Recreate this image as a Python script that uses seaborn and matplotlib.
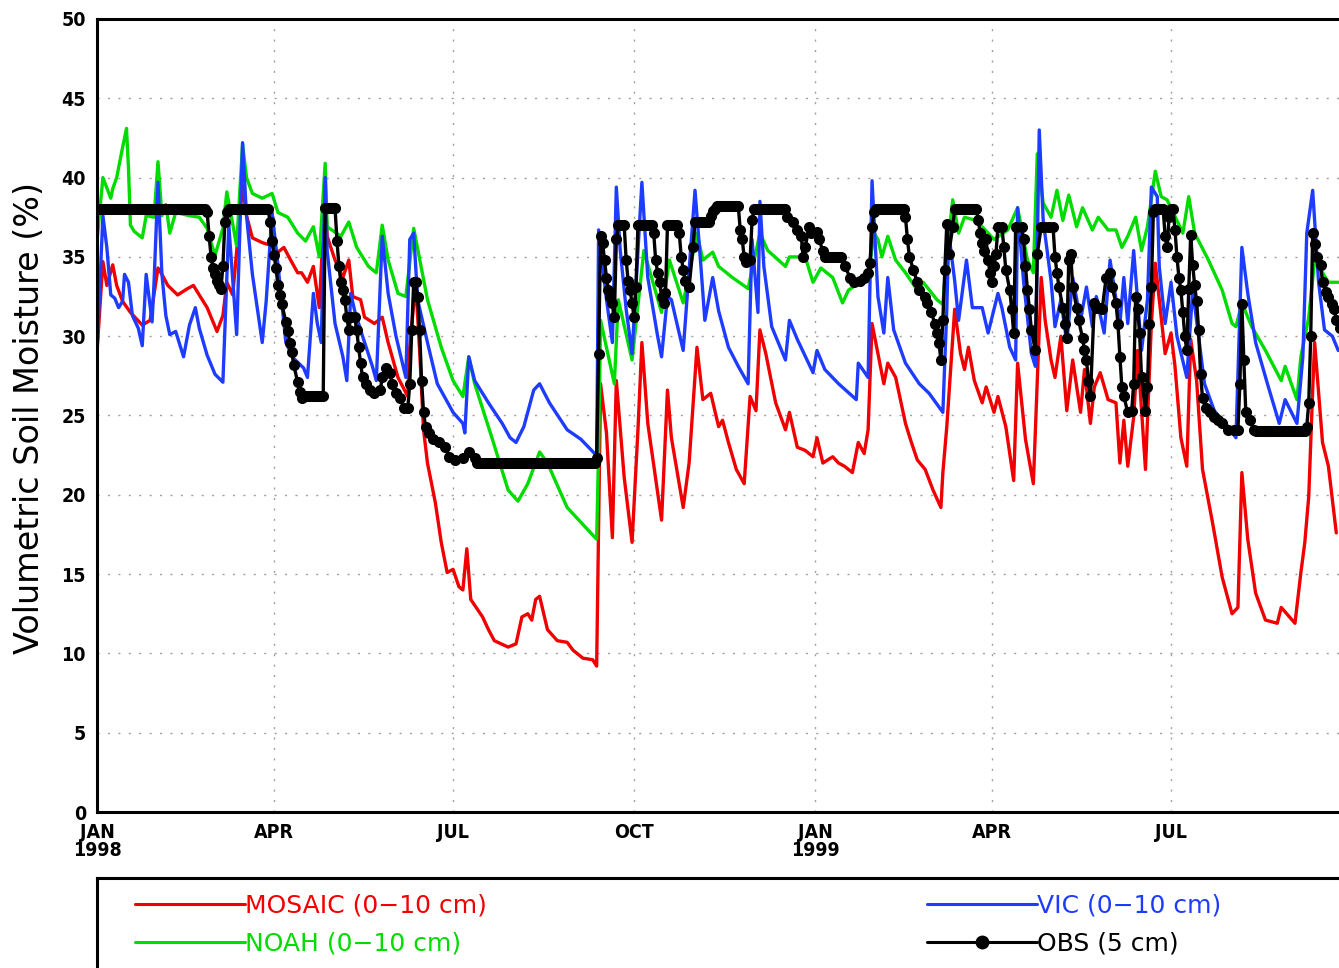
import numpy as np
import pandas as pd
import matplotlib.pyplot as plt
import seaborn as sns
from matplotlib.lines import Line2D

# day = days since 1 Jan 1998, value = volumetric soil moisture (%)
mosaic = [(0,29.0),(3,34.7),(5,33.2),(8,34.5),(10,33.2),(13,32.2),(17,31.5),(23,30.7),(27,31.0),(31,34.3),
          (33,33.9),(36,33.2),(41,32.6),(46,33.0),(49,33.2),(52,32.6),(56,31.8),(61,30.3),(64,31.3),(66,33.4),
          (69,32.6),(74,39.5),(76,37.6),(79,36.2),(84,35.9),(89,35.7),(92,35.3),(95,35.6),(98,34.9),(102,34.0),
          (104,34.0),(107,33.4),(110,34.4),(113,31.8),(116,39.2),(117,36.3),(121,34.8),(125,33.7),(128,34.8),(130,32.5),
          (134,32.3),(136,31.2),(141,30.8),(145,31.2),(148,29.6),(153,27.4),(158,26.2),(159,29.3),(162,33.4),(164,29.1),
          (166,24.1),(168,22.0),(172,19.5),(175,17.0),(178,15.1),(181,15.3),(184,14.2),(186,14.0),(188,16.6),(190,13.4),
          (196,12.3),(199,11.5),(202,10.8),(209,10.4),(213,10.6),(216,12.3),(219,12.5),(221,12.1),(223,13.4),(225,13.6),
          (229,11.5),(234,10.8),(239,10.7),(242,10.2),(247,9.7),(252,9.6),(254,9.2),(256,27.0),(259,23.9),(262,17.3),
          (264,27.2),(268,21.1),(272,17.0),(275,24.1),(277,29.6),(280,24.5),(287,18.4),(290,26.6),(292,23.6),(298,19.2),
          (301,22.0),(305,29.3),(308,26.0),(312,26.4),(316,24.3),(318,24.7),(321,23.3),(325,21.6),(329,20.7),(332,26.2),
          (335,25.3),(337,30.4),(340,28.9),(345,25.8),(350,24.1),(352,25.2),(356,23.0),(360,22.8),(364,22.4),(366,23.6),
          (369,22.0),(374,22.4),(377,22.0),(380,21.8),(384,21.4),(387,23.3),(390,22.6),(392,24.1),(394,30.8),(397,28.9),
          (400,27.0),(402,28.3),(406,27.4),(411,24.5),(414,23.3),(417,22.2),(421,21.6),(425,20.3),(429,19.2),(430,21.4),
          (432,24.3),(436,31.7),(439,28.9),(441,27.9),(443,29.3),(446,27.2),(450,25.8),(452,26.8),(456,25.2),(458,26.2),
          (462,24.3),(466,20.9),(468,28.3),(472,23.5),(476,20.7),(480,33.7),(482,31.0),(485,28.5),(487,27.4),(490,30.0),
          (493,25.3),(496,28.5),(500,25.2),(502,27.9),(505,24.5),(507,26.8),(510,27.7),(514,26.0),(518,25.8),(520,22.0),
          (522,24.7),(524,21.8),(527,24.9),(529,29.1),(533,21.6),(536,30.8),(538,34.6),(540,32.3),(543,28.9),(546,30.2),
          (548,28.1),(551,23.6),(554,21.8),(556,29.8),(559,27.2),(562,21.6),(567,18.3),(572,14.8),(577,12.5),(580,12.9),
          (582,21.4),(585,17.2),(589,13.8),(594,12.1),(600,11.9),(602,12.9),(609,11.9),(612,15.1),(614,17.0),(616,19.9),
          (618,26.6),(619,29.6),(623,23.3),(626,21.8),(630,17.6)]

noah = [(0,36.0),(3,40.0),(7,38.7),(8,39.3),(10,40.0),(13,41.9),(15,43.1),(16,40.6),(17,37.0),(19,36.6),
        (23,36.2),(25,37.6),(29,37.5),(31,41.0),(33,37.6),(35,38.3),(37,36.5),(40,37.8),(47,37.6),(52,37.5),
        (56,36.8),(58,35.9),(60,35.1),(64,36.8),(66,39.1),(71,35.7),(74,42.1),(76,40.0),(79,39.0),(84,38.7),
        (89,39.0),(92,37.8),(97,37.5),(102,36.5),(106,36.0),(110,36.9),(113,35.0),(116,40.9),(117,36.9),(124,36.3),
        (128,37.2),(132,35.6),(138,34.4),(142,34.0),(145,37.0),(148,34.8),(153,32.7),(157,32.5),(161,36.8),(168,32.3),
        (175,29.3),(181,27.2),(186,26.2),(189,28.7),(192,27.0),(201,23.5),(209,20.3),(214,19.6),(219,20.7),(225,22.7),
        (229,22.0),(239,19.2),(254,17.2),(255,22.8),(256,31.0),(263,27.0),(265,32.3),(272,28.5),(278,35.4),(287,31.5),
        (291,34.8),(298,32.1),(305,36.5),(308,34.8),(313,35.3),(316,34.4),(323,33.7),(331,33.0),(337,36.5),(341,35.4),
        (350,34.4),(352,35.0),(360,35.0),(364,33.4),(368,34.3),(374,33.7),(379,32.1),(382,32.9),(389,33.5),(392,33.7),
        (395,36.5),(397,36.1),(399,35.0),(402,36.3),(406,34.8),(411,34.0),(417,32.9),(420,33.4),(427,32.3),(430,32.0),
        (432,35.2),(435,38.6),(438,36.5),(441,37.5),(447,37.3),(456,36.1),(463,36.7),(468,38.1),(473,34.8),(476,34.0),
        (478,41.5),(481,38.4),(485,37.5),(488,39.2),(491,37.3),(494,38.9),(498,36.9),(501,38.1),(506,36.7),(509,37.5),
        (514,36.7),(518,36.7),(521,35.6),(524,36.3),(528,37.5),(531,35.4),(534,36.9),(538,40.4),(541,38.8),(544,38.6),
        (552,36.5),(555,38.8),(558,36.5),(565,34.8),(572,32.9),(577,30.8),(579,30.6),(582,32.1),(587,30.6),(594,29.1),
        (602,27.2),(604,28.1),(610,26.0),(612,28.7),(616,31.2),(619,34.8),(626,33.4),(631,33.4)]

vic = [(0,29.0),(3,37.6),(5,35.6),(7,32.6),(9,32.4),(11,31.8),(13,32.2),(14,33.9),(16,33.4),(18,31.3),
       (21,30.5),(23,29.4),(25,33.9),(28,30.9),(29,33.4),(31,39.7),(33,33.9),(35,31.3),(37,30.1),(40,30.3),
       (44,28.7),(47,30.7),(50,31.8),(52,30.5),(56,28.8),(60,27.6),(64,27.1),(67,37.0),(71,30.1),(74,42.2),
       (76,37.6),(79,33.9),(84,29.6),(86,32.2),(89,37.8),(92,34.5),(96,29.6),(100,28.6),(105,28.0),(107,27.4),
       (110,32.7),(112,30.8),(114,29.6),(116,40.0),(117,35.4),(121,30.8),(125,28.7),(127,27.2),(129,32.7),(131,31.6),
       (135,30.0),(140,28.1),(142,27.2),(145,36.3),(148,32.7),(152,30.0),(157,27.4),(159,36.1),(161,36.5),(163,32.3),
       (168,29.6),(173,27.0),(181,25.2),(186,24.5),(187,23.9),(189,28.7),(192,27.2),(199,25.8),(206,24.5),(210,23.6),
       (213,23.3),(217,24.3),(222,26.6),(225,27.0),(230,25.8),(239,24.1),(246,23.5),(253,22.6),(254,22.3),(255,36.7),
       (259,32.3),(262,29.6),(264,39.4),(266,35.4),(269,31.7),(272,28.9),(277,39.7),(280,33.7),(285,30.0),(287,28.7),
       (290,32.5),(292,32.3),(298,29.1),(304,39.2),(307,34.4),(309,31.0),(313,33.7),(316,31.6),(321,29.3),(326,28.1),
       (331,27.0),(333,36.1),(336,31.5),(337,38.5),(339,34.4),(343,30.6),(350,28.5),(352,31.0),(356,29.8),(364,27.7),
       (366,29.1),(370,27.9),(377,27.0),(386,26.0),(387,28.3),(392,27.4),(394,39.8),(397,32.5),(400,30.2),(402,33.7),
       (405,30.4),(411,28.3),(418,27.0),(423,26.4),(430,25.2),(432,31.7),(433,36.5),(436,33.5),(438,31.0),(442,34.8),
       (445,31.8),(450,31.8),(453,30.2),(458,32.7),(460,31.8),(464,29.3),(467,28.5),(468,38.1),(471,33.5),(475,28.9),
       (477,28.1),(479,43.0),(481,37.3),(485,33.5),(487,30.6),(490,32.3),(493,29.6),(496,33.7),(500,31.0),(503,33.1),
       (506,30.6),(508,32.5),(512,30.2),(515,34.8),(519,31.5),(520,30.8),(522,33.7),(524,30.8),(527,35.4),(531,29.1),
       (534,32.3),(536,39.4),(539,38.8),(540,34.4),(543,30.8),(546,33.4),(549,30.0),(554,27.4),(557,32.9),(560,30.0),
       (563,27.0),(568,25.3),(575,24.3),(579,23.6),(582,35.6),(585,32.7),(589,29.6),(595,27.0),(601,24.5),(604,26.0),
       (610,24.5),(613,28.7),(615,36.5),(618,39.2),(621,33.4),(624,30.4),(628,30.0),(631,29.1)]

# observed (daily) - changing days
obs = [(56,37.8),(57,36.3),(58,35.0),(59,34.3),(60,33.9),(61,33.5),(62,33.2),(63,33.0),(64,34.4),(65,37.2),(66,37.8),
       (88,37.2),(89,36.0),(90,35.1),(91,34.3),(92,33.2),(93,32.6),(94,32.0),(96,30.9),(97,30.3),(98,29.6),(99,29.0),
       (100,28.2),(102,27.1),(103,26.5),(104,26.1),
       (122,36.0),(123,34.4),(124,33.4),(125,32.9),(126,32.3),(127,31.2),(128,30.4),(129,31.2),(131,31.2),(132,30.4),
       (133,29.3),(134,28.3),(135,27.4),(137,27.0),(139,26.6),(141,26.4),(144,26.6),(145,27.4),(147,28.0),(149,27.7),
       (150,27.0),(152,26.4),(154,26.1),(156,25.5),(158,25.5),(159,27.0),(160,30.4),(161,33.4),(162,33.4),(163,32.5),
       (164,30.4),(165,27.2),(166,25.2),(167,24.3),(169,23.9),(171,23.5),(174,23.3),(177,23.0),(179,22.4),(182,22.2),
       (186,22.3),(189,22.7),(192,22.3),
       (254,22.3),(255,28.9),(256,36.3),(257,35.9),(258,34.8),(259,33.7),(260,32.9),(261,32.5),(262,32.1),(263,31.2),
       (264,36.1),(269,34.8),(270,33.5),(271,32.9),(272,32.1),(273,31.2),(274,33.1),
       (283,36.5),(284,34.8),(285,34.0),(286,33.4),(287,32.5),(288,32.1),(289,32.7),
       (296,36.5),(297,35.0),(298,34.2),(299,33.5),(301,33.1),(303,35.6),(312,37.6),(313,37.9),(314,38.0),
       (327,36.7),(328,36.1),(329,35.0),(330,34.7),(332,34.8),(333,37.3),
       (351,37.5),(354,37.2),(356,36.7),(358,36.3),(359,35.0),(360,35.6),(362,36.9),(363,36.5),(366,36.6),(367,36.1),
       (369,35.4),(380,34.4),(383,33.7),(385,33.4),(388,33.5),(390,33.7),(392,34.0),(393,34.6),(394,36.9),(395,37.8),
       (411,37.5),(412,36.1),(413,35.0),(415,34.2),(417,33.4),(418,32.9),(421,32.5),(422,32.1),(424,31.5),(426,30.8),
       (427,30.2),(428,29.6),(429,28.5),(430,31.0),(431,34.2),(432,37.1),(433,35.2),(435,36.9),
       (448,37.3),(449,36.5),(450,35.9),(451,35.4),(452,36.1),(453,34.8),(454,34.0),(455,33.4),(456,34.4),(457,35.2),
       (458,36.9),(460,36.9),(461,35.6),(462,34.2),(464,32.9),(465,31.7),(466,30.2),(467,36.9),(470,36.9),(471,36.1),
       (472,34.4),(473,32.9),(474,31.7),(475,30.4),(477,29.1),(478,35.2),(480,36.9),(482,36.9),(484,36.9),(486,36.9),
       (487,35.0),(488,34.0),(489,33.1),(491,31.8),(492,30.8),(493,29.9),(494,34.8),(495,35.2),(496,33.1),(498,31.8),
       (499,31.0),(501,29.9),(502,29.1),(503,28.5),(504,27.2),(505,26.2),(507,32.1),(508,31.8),(510,31.8),(511,31.7),
       (513,33.7),(515,34.0),(516,33.1),(518,32.1),(519,30.8),(520,28.7),(521,26.8),(522,26.2),(524,25.2),(526,25.3),
       (527,27.0),(528,32.5),(529,31.7),(530,30.2),(531,27.4),(533,25.3),(534,26.8),(535,30.8),(536,33.1),(537,37.8),
       (543,36.3),(544,35.6),(545,37.5),(546,38.0),(547,38.0),(548,36.7),(549,35.0),(550,33.7),(551,32.9),(552,31.5),
       (553,30.0),(554,29.1),(555,33.0),(556,36.4),(557,34.5),(558,33.2),(559,32.2),(560,30.4),(561,27.6),(562,26.1),
       (564,25.5),(566,25.2),(568,24.9),(570,24.7),(572,24.5),(575,24.1),(578,24.1),(580,24.1),(581,27.0),(582,32.0),
       (583,28.5),(584,25.2),(586,24.7),(588,24.1),
       (615,24.3),(616,25.8),(617,30.0),(618,36.5),(619,35.8),(620,35.0),(622,34.5),(623,33.4),(625,32.8),(626,32.5),
       (628,32.0),(629,31.7),(630,31.0),(632,30.5)]

# observed plateaus: (first day, last day, value), one reading per day
obs_flat = [(0,55,38.0),(67,87,38.0),(105,115,26.2),(116,121,38.1),(193,253,22.0),(265,268,37.0),
            (275,282,37.0),(290,295,37.0),(304,311,37.2),(315,326,38.2),(334,350,38.0),(370,378,35.0),
            (396,410,38.0),(436,447,38.0),(538,542,38.0),(589,614,24.0)]

month_ticks = ['1998-01-01','1998-04-01','1998-07-01','1998-10-01','1999-01-01','1999-04-01','1999-07-01']
month_labels = ['JAN\n1998','APR','JUL','OCT','JAN\n1999','APR','JUL']

start = pd.Timestamp('1998-01-01')

def to_frame(pairs):
    d = pd.DataFrame(pairs, columns=['day','val'])
    d['date'] = start + pd.to_timedelta(d['day'], unit='D')
    return d

obs_daily = dict(obs)
for d0, d1, v in obs_flat:
    for d in range(d0, d1 + 1):
        obs_daily[d] = v
obs_all = sorted(obs_daily.items())

RED = '#f00000'
GREEN = '#00dc00'
BLUE = '#1e3cff'

sns.set_theme(style='white')
plt.rcParams['font.family'] = ['DejaVu Sans']
plt.rcParams['text.color'] = 'black'

fig = plt.figure(figsize=(13.39, 9.68), dpi=100)
ax = fig.add_axes([97/1339, 156/968, 1436/1339, 793/968])

sns.lineplot(data=to_frame(mosaic), x='date', y='val', color=RED, lw=2.4, ax=ax, estimator=None)
sns.lineplot(data=to_frame(noah), x='date', y='val', color=GREEN, lw=2.4, ax=ax, estimator=None)
sns.lineplot(data=to_frame(vic), x='date', y='val', color=BLUE, lw=2.4, ax=ax, estimator=None)
sns.lineplot(data=to_frame(obs_all), x='date', y='val', color='black', lw=2.4, ax=ax, estimator=None,
             marker='o', markersize=8, markeredgewidth=0)

ax.set_xlim(start, pd.Timestamp('2000-01-01'))
ax.set_ylim(0, 50)
ax.set_xlabel('')
ax.set_ylabel('')

tick_font = dict(family=['Liberation Sans Narrow', 'DejaVu Sans'], weight='bold', size=14,
                 stretch='condensed', color='black')
ax.set_yticks(range(0, 51, 5))
ax.set_yticklabels([str(v) for v in range(0, 51, 5)], fontdict=tick_font)
ax.set_xticks(pd.to_datetime(month_ticks))
ax.set_xticklabels(month_labels, fontdict=tick_font, linespacing=0.9)
ax.tick_params(axis='both', direction='out', length=5, width=1.5, color='black', pad=3)

ax.grid(True, color='#a0a0a0', linestyle=(0, (1.5, 6)), lw=1)
for s in ax.spines.values():
    s.set_linewidth(2.2)
    s.set_color('black')

fig.text(30/1339, 1 - 418/968, 'Volumetric Soil Moisture (%)', rotation=90,
         ha='center', va='center', fontsize=24, color='black')

# legend box
lax = fig.add_axes([97/1339, -0.1, 1.2, 90/968 + 0.1])
lax.set_xticks([])
lax.set_yticks([])
for s in lax.spines.values():
    s.set_linewidth(2.2)
    s.set_color('black')

h_red = Line2D([], [], color=RED, lw=2.2)
h_green = Line2D([], [], color=GREEN, lw=2.2)
h_blue = Line2D([], [], color=BLUE, lw=2.2)
h_obs = Line2D([], [], color='black', lw=2.2, marker='o', markersize=10, markeredgewidth=0)

leg_kw = dict(frameon=False, fontsize=18, handlelength=4.4, handletextpad=0.0,
              labelspacing=0.55, borderpad=0, borderaxespad=0, loc='upper left')
lw_px = 1.2 * 1339
leg1 = lax.legend([h_red, h_green], ['MOSAIC (0\u221210 cm)', 'NOAH (0\u221210 cm)'],
                  bbox_to_anchor=((135 - 97) / lw_px, 0.915), **leg_kw)
for t, c in zip(leg1.get_texts(), [RED, GREEN]):
    t.set_color(c)
lax.add_artist(leg1)
leg2 = lax.legend([h_blue, h_obs], ['VIC (0\u221210 cm)', 'OBS (5 cm)'],
                  bbox_to_anchor=((927 - 97) / lw_px, 0.915), **leg_kw)
for t, c in zip(leg2.get_texts(), [BLUE, 'black']):
    t.set_color(c)

fig.savefig('out.png', dpi=100)
